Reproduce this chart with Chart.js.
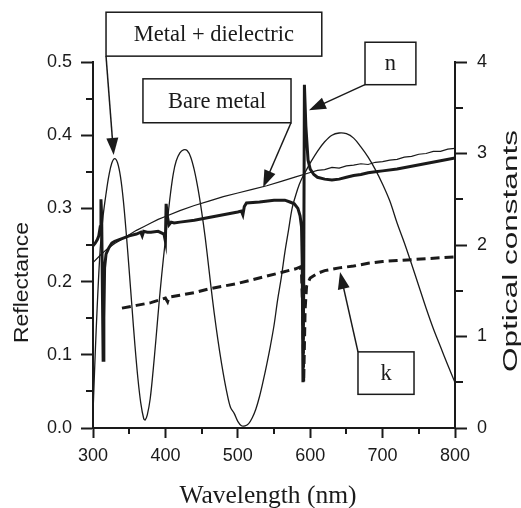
<!DOCTYPE html>
<html>
<head>
<meta charset="utf-8">
<script src="https://cdn.jsdelivr.net/npm/chart.js@4.4.1/dist/chart.umd.min.js"></script>
<style>
  html, body { margin: 0; padding: 0; background: #fff; }
  #chart { display: block; }
</style>
</head>
<body>
<canvas id="chart" width="521" height="508"></canvas>
<script>
// Metal + dielectric reflectance (left axis)
const mdWl = [300, 303, 306, 310, 314, 318, 322, 326, 330, 334, 338, 342, 346, 350, 354, 358, 362, 366, 370, 372,
  375, 379, 383, 387, 391, 395, 399, 403, 407, 411, 415, 420, 425, 430, 435, 440, 445, 450, 455, 460,
  465, 470, 475, 480, 485, 490, 495, 500, 505, 510, 515, 520, 525, 530, 535, 540, 545, 550, 555, 560,
  565, 570, 575, 580, 585, 590, 595, 600, 610, 620, 630, 640, 650, 660, 670, 680, 690, 700, 710, 720,
  730, 740, 750, 760, 770, 780, 790, 800];
const mdR = [0.02, 0.10, 0.17, 0.245, 0.29, 0.32, 0.345, 0.362, 0.368, 0.362, 0.343, 0.31, 0.265, 0.215, 0.163, 0.112, 0.068, 0.034, 0.013, 0.011,
  0.018, 0.04, 0.078, 0.122, 0.168, 0.21, 0.248, 0.285, 0.32, 0.348, 0.365, 0.376, 0.38, 0.379, 0.37, 0.352, 0.327, 0.296, 0.26, 0.218,
  0.176, 0.138, 0.104, 0.074, 0.048, 0.028, 0.02, 0.009, 0.003, 0.003, 0.006, 0.014, 0.026, 0.043, 0.064, 0.087, 0.112, 0.14, 0.175, 0.205,
  0.24, 0.27, 0.3, 0.318, 0.333, 0.344, 0.353, 0.362, 0.378, 0.391, 0.4, 0.403, 0.402, 0.396, 0.384, 0.37, 0.353, 0.333, 0.31, 0.28,
  0.253, 0.224, 0.194, 0.164, 0.136, 0.111, 0.086, 0.062];

// Bare metal reflectance (left axis)
const bmWl = [300, 310, 320, 330, 340, 350, 360, 370, 380, 390, 400, 420, 440, 460, 480, 500, 520, 540, 560, 580,
  600, 610, 620, 630, 640, 650, 660, 670, 680, 690, 700, 710, 720, 730, 740, 750, 760, 770, 780, 790, 800];
const bmR = [0.226, 0.236, 0.245, 0.252, 0.258, 0.264, 0.27, 0.275, 0.28, 0.285, 0.289, 0.297, 0.304, 0.31, 0.316, 0.321, 0.326, 0.331, 0.337, 0.343,
  0.349, 0.352, 0.353, 0.356, 0.355, 0.358, 0.359, 0.361, 0.36, 0.363, 0.364, 0.366, 0.367, 0.37, 0.371, 0.374, 0.375, 0.378, 0.378, 0.381, 0.382];

// n (right axis)
const nWl = [300, 303, 306, 308, 310, 311, 312, 313, 314, 315, 316, 318, 322, 326, 330, 340, 350, 360, 366, 368,
  370, 375, 380, 390, 398, 400, 401, 403, 405, 408, 412, 420, 440, 460, 480, 500, 505, 507, 509, 512,
  530, 550, 565, 572, 578, 583, 586, 588, 589, 590, 591, 592, 594, 597, 600, 605, 610, 620, 630, 640,
  650, 660, 670, 680, 690, 700, 720, 740, 760, 780, 800];
const nVal = [1.99, 2.02, 2.06, 2.1, 2.2, 2.5, 2.3, 1.5, 0.74, 1.2, 1.75, 1.9, 1.97, 2.02, 2.04, 2.07, 2.1, 2.12, 2.14, 2.1,
  2.15, 2.14, 2.14, 2.15, 2.12, 2.04, 2.45, 2.3, 2.22, 2.25, 2.24, 2.25, 2.27, 2.3, 2.33, 2.36, 2.37, 2.33, 2.42, 2.46,
  2.47, 2.49, 2.49, 2.47, 2.45, 2.4, 2.32, 2.2, 1.8, 0.5, 1.5, 3.75, 3.3, 2.93, 2.83, 2.77, 2.74, 2.72, 2.71, 2.72,
  2.74, 2.76, 2.77, 2.79, 2.8, 2.81, 2.83, 2.86, 2.89, 2.92, 2.95];

// k (right axis)
const kWl = [340, 360, 380, 400, 403, 405, 420, 440, 460, 480, 500, 520, 540, 560, 580, 586, 588, 590, 591, 592,
  593, 595, 600, 610, 620, 640, 660, 680, 700, 720, 740, 760, 780, 800];
const kVal = [1.31, 1.34, 1.37, 1.42, 1.38, 1.43, 1.45, 1.48, 1.52, 1.55, 1.58, 1.62, 1.66, 1.7, 1.74, 1.76, 1.7, 1.2, 0.5, 0.9,
  1.3, 1.55, 1.64, 1.69, 1.72, 1.75, 1.77, 1.8, 1.82, 1.83, 1.84, 1.85, 1.86, 1.87];

// axis ticks
const xTicks = [300, 400, 500, 600, 700, 800];
const xMinor = [350, 450, 550, 650, 750];
const yTicks = [0, 0.1, 0.2, 0.3, 0.4, 0.5];
const yMinor = [0.05, 0.15, 0.25, 0.35, 0.45];
const y2Ticks = [0, 1, 2, 3, 4];
const y2Minor = [0.5, 1.5, 2.5, 3.5];

// callout boxes, in data units (nm, reflectance)
const notes = [
  { text: 'Metal + dielectric', box: [318, 616, 0.568, 0.508], from: [318, 0.508], to: [328.5, 0.373] },
  { text: 'Bare metal', box: [369, 573.5, 0.477, 0.417], from: [573.5, 0.417], to: [535, 0.329] },
  { text: 'n', box: [675.7, 746, 0.527, 0.469], from: [675.7, 0.469], to: [598.3, 0.434] },
  { text: 'k', box: [666, 743.4, 0.104, 0.046], from: [666, 0.104], to: [641.2, 0.213] }
];

const INK = '#1a1a1a';
const SANS = '"Liberation Sans", Arial, sans-serif';
const SERIF = '"Liberation Serif", "Times New Roman", serif';

function pts(xs, ys) {
  return xs.map((x, i) => ({ x: x, y: ys[i] }));
}

function arrow(ctx, x1, y1, x2, y2) {
  const a = Math.atan2(y2 - y1, x2 - x1);
  const len = 17, hw = 6;
  ctx.beginPath();
  ctx.moveTo(x1, y1);
  ctx.lineTo(x2 - Math.cos(a) * len * 0.8, y2 - Math.sin(a) * len * 0.8);
  ctx.stroke();
  ctx.beginPath();
  ctx.moveTo(x2, y2);
  ctx.lineTo(x2 - Math.cos(a) * len - Math.sin(a) * hw, y2 - Math.sin(a) * len + Math.cos(a) * hw);
  ctx.lineTo(x2 - Math.cos(a) * len + Math.sin(a) * hw, y2 - Math.sin(a) * len - Math.cos(a) * hw);
  ctx.closePath();
  ctx.fill();
}

// rotated label, stretched along its length to fit yStart..yEnd
function vText(ctx, text, xBase, yStart, yEnd, size) {
  ctx.save();
  ctx.font = size + 'px ' + SANS;
  const w = ctx.measureText(text).width;
  ctx.translate(xBase, yStart);
  ctx.rotate(-Math.PI / 2);
  ctx.scale((yStart - yEnd) / w, 1);
  ctx.textAlign = 'left';
  ctx.textBaseline = 'alphabetic';
  ctx.fillText(text, 0, 0);
  ctx.restore();
}

const extras = {
  id: 'extras',
  afterDraw(chart) {
    const ctx = chart.ctx;
    const sx = chart.scales.x, sy = chart.scales.y, sy2 = chart.scales.y2;
    const area = chart.chartArea;
    ctx.save();
    ctx.strokeStyle = INK;
    ctx.fillStyle = INK;

    // minor ticks
    ctx.lineWidth = 2;
    ctx.beginPath();
    xMinor.forEach(v => {
      const p = Math.round(sx.getPixelForValue(v));
      ctx.moveTo(p, area.bottom); ctx.lineTo(p, area.bottom + 6);
    });
    yMinor.forEach(v => {
      const p = Math.round(sy.getPixelForValue(v));
      ctx.moveTo(area.left, p); ctx.lineTo(area.left - 7, p);
    });
    y2Minor.forEach(v => {
      const p = Math.round(sy2.getPixelForValue(v));
      ctx.moveTo(area.right, p); ctx.lineTo(area.right + 8, p);
    });
    ctx.stroke();

    // callouts
    notes.forEach(n => {
      const l = sx.getPixelForValue(n.box[0]), r = sx.getPixelForValue(n.box[1]);
      const t = sy.getPixelForValue(n.box[2]), b = sy.getPixelForValue(n.box[3]);
      ctx.fillStyle = '#fff';
      ctx.fillRect(l, t, r - l, b - t);
      ctx.lineWidth = 1.5;
      ctx.strokeStyle = INK;
      ctx.strokeRect(l, t, r - l, b - t);
      ctx.fillStyle = INK;
      ctx.font = '22.5px ' + SERIF;
      ctx.textAlign = 'center';
      ctx.textBaseline = 'middle';
      ctx.fillText(n.text, (l + r) / 2, (t + b) / 2 + 1);
      ctx.lineWidth = 1.5;
      arrow(ctx, sx.getPixelForValue(n.from[0]), sy.getPixelForValue(n.from[1]),
        sx.getPixelForValue(n.to[0]), sy.getPixelForValue(n.to[1]));
    });

    // axis titles
    ctx.fillStyle = INK;
    vText(ctx, 'Reflectance', 27.5, 343, 222, 21);
    vText(ctx, 'Optical constants', 517, 372, 130, 21);
    ctx.font = '25.5px ' + SERIF;
    ctx.textAlign = 'center';
    ctx.textBaseline = 'alphabetic';
    ctx.fillText('Wavelength (nm)', 268, 503);
    ctx.restore();
  }
};

const gridOpts = (len) => ({
  drawOnChartArea: false,
  drawTicks: true,
  tickLength: len,
  tickWidth: 2,
  tickColor: INK
});

new Chart(document.getElementById('chart'), {
  type: 'line',
  data: {
    datasets: [
      {
        label: 'Metal + dielectric',
        data: pts(mdWl, mdR),
        yAxisID: 'y',
        borderColor: INK,
        borderWidth: 1.3,
        pointRadius: 0,
        tension: 0.35
      },
      {
        label: 'Bare metal',
        data: pts(bmWl, bmR),
        yAxisID: 'y',
        borderColor: INK,
        borderWidth: 1.2,
        pointRadius: 0,
        tension: 0
      },
      {
        label: 'n',
        data: pts(nWl, nVal),
        yAxisID: 'y2',
        borderColor: INK,
        borderWidth: 3,
        pointRadius: 0,
        tension: 0
      },
      {
        label: 'k',
        data: pts(kWl, kVal),
        yAxisID: 'y2',
        borderColor: INK,
        borderWidth: 3,
        borderDash: [9, 5],
        pointRadius: 0,
        tension: 0
      }
    ]
  },
  options: {
    responsive: false,
    animation: false,
    devicePixelRatio: 1,
    layout: { padding: { top: 62, left: 0, right: 0, bottom: 0 } },
    plugins: {
      legend: { display: false },
      tooltip: { enabled: false }
    },
    scales: {
      x: {
        type: 'linear',
        position: 'bottom',
        min: 300,
        max: 800,
        afterBuildTicks: s => { s.ticks = xTicks.map(v => ({ value: v })); },
        afterFit: s => { s.height = 80; },
        ticks: { color: INK, font: { family: SANS, size: 18 }, padding: 7, maxRotation: 0 },
        grid: gridOpts(10),
        border: { display: true, color: INK, width: 2 }
      },
      y: {
        type: 'linear',
        position: 'left',
        min: 0,
        max: 0.5,
        afterBuildTicks: s => { s.ticks = yTicks.map(v => ({ value: v })); },
        afterFit: s => { s.width = 93; },
        ticks: { color: INK, font: { family: SANS, size: 18 }, padding: 9, callback: v => v.toFixed(1) },
        grid: gridOpts(12),
        border: { display: true, color: INK, width: 2 }
      },
      y2: {
        type: 'linear',
        position: 'right',
        min: 0,
        max: 4,
        afterBuildTicks: s => { s.ticks = y2Ticks.map(v => ({ value: v })); },
        afterFit: s => { s.width = 66; },
        ticks: { color: INK, font: { family: SANS, size: 18 }, padding: 10, callback: v => String(v) },
        grid: gridOpts(12),
        border: { display: true, color: INK, width: 2 }
      }
    }
  },
  plugins: [extras]
});
</script>
</body>
</html>
